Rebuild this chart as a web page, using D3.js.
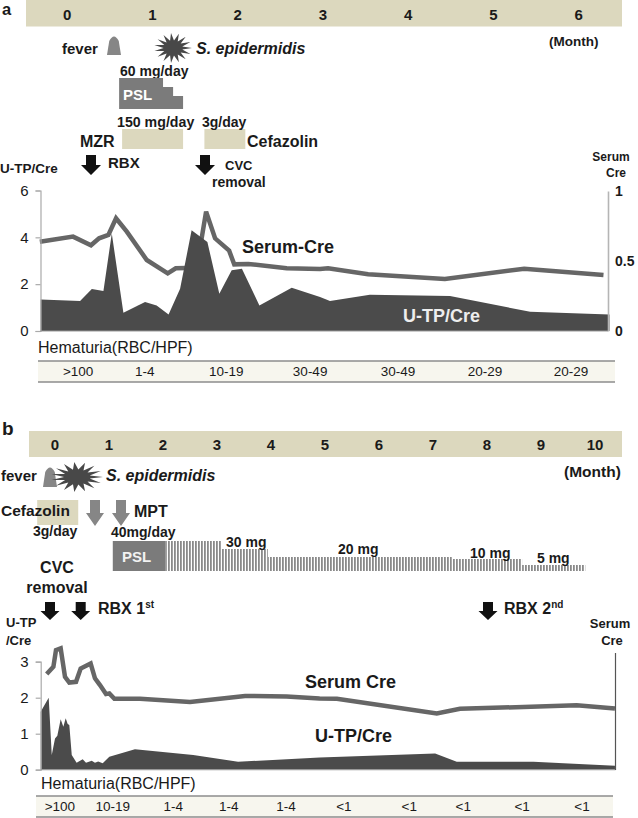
<!DOCTYPE html>
<html>
<head>
<meta charset="utf-8">
<script src="https://cdn.jsdelivr.net/npm/d3@7"></script>
<style>
  html, body { margin: 0; padding: 0; background: #fff; }
  svg { display: block; }
  text { font-family: "Liberation Sans", Arial, sans-serif; fill: #1a1a1a; }
  .b { font-weight: 700; }
</style>
</head>
<body>
<div id="chart"></div>
<script>
/* Panel a — time in months, U-TP/Cre on the left axis, serum Cre on the right axis */
var monthsA = [0, 1, 2, 3, 4, 5, 6];
var serumTimeA = [-0.32, 0.07, 0.28, 0.375, 0.484, 0.574, 0.70, 0.934, 1.18, 1.274, 1.52, 1.63, 1.735, 1.90, 1.96, 2.125, 2.575, 2.966, 3.06, 3.53, 4.43, 5.36, 6.29];
var serumValA = [0.638, 0.674, 0.612, 0.662, 0.686, 0.805, 0.71, 0.507, 0.412, 0.448, 0.452, 0.852, 0.662, 0.574, 0.476, 0.479, 0.448, 0.443, 0.448, 0.405, 0.371, 0.445, 0.40];
var utpTimeA = [-0.31, 0.152, 0.29, 0.426, 0.524, 0.66, 0.914, 1.05, 1.19, 1.325, 1.46, 1.645, 1.785, 1.93, 2.05, 2.255, 2.634, 2.966, 3.083, 3.55, 4.49, 5.43, 6.36];
var utpValA = [1.34, 1.28, 1.79, 1.71, 4.16, 0.78, 1.24, 1.09, 0.70, 1.80, 4.30, 3.80, 1.59, 2.59, 2.66, 1.09, 1.85, 1.45, 1.28, 1.55, 1.50, 0.82, 0.70];
var hemaLabelsA = ['>100', '1-4', '10-19', '30-49', '30-49', '20-29', '20-29'];
var hemaTimeA = [0.13, 0.91, 1.865, 2.85, 3.88, 4.90, 5.91];
var leftTicksA = [0, 2, 4, 6];
var rightTicksA = [0, 0.5, 1];
var pslTimeA = [0.61, 1.125, 1.243, 1.36];
var pslLevelA = [1, 0.71, 0.42];
var mzrTimeA = [0.645, 1.36];
var cefTimeA = [1.61, 2.09];

/* Panel b */
var monthsB = [0, 1, 2, 3, 4, 5, 6, 7, 8, 9, 10];
var serumTimeB = [-0.154, -0.03, 0.018, 0.105, 0.185, 0.265, 0.389, 0.475, 0.66, 0.74, 0.833, 0.944, 1.006, 1.10, 1.574, 2.5, 3.52, 4.29, 4.9, 5.22, 7.07, 7.5, 9.66, 10.37];
var serumValB = [2.66, 2.86, 3.32, 3.37, 2.58, 2.42, 2.44, 2.81, 2.95, 2.54, 2.35, 2.10, 2.12, 1.97, 1.97, 1.88, 2.05, 2.03, 1.98, 1.97, 1.56, 1.69, 1.79, 1.70];
var utpTimeB = [-0.265, -0.117, -0.06, 0, 0.043, 0.105, 0.154, 0.198, 0.235, 0.265, 0.31, 0.40, 0.513, 0.574, 0.68, 0.74, 0.80, 0.883, 1.006, 1.48, 2.56, 3.39, 4.9, 7.04, 7.44, 8.86, 10.37];
var utpValB = [1.61, 2.0, 0.41, 0.87, 0.94, 1.40, 1.19, 1.43, 1.27, 1.24, 0.41, 0.19, 0.29, 0.19, 0.25, 0.19, 0.23, 0.18, 0.36, 0.57, 0.41, 0.22, 0.34, 0.45, 0.22, 0.22, 0.11];
var hemaLabelsB = ['>100', '10-19', '1-4', '1-4', '1-4', '<1', '<1', '<1', '<1', '<1'];
var hemaTimeB = [0.09, 1.07, 2.19, 3.22, 4.28, 5.35, 6.56, 7.56, 8.65, 9.76];
var leftTicksB = [0, 1, 2, 3];
var pslDoseB = [30, 20, 10, 5];
var pslDoseHeightB = [22, 14, 12, 6];
var pslTimeB = [2.04, 3.09, 3.94, 7.35, 8.65, 9.82];
var pslTopDoseB = [40, 30, 20, 10, 5];
var cefTimeB = [-0.33, 0.43];

var BAND = '#dcd8be', DARK = '#4b4b4b', LINE = '#666', GREY = '#868686', PSL = '#7b7b7b';

var svg = d3.select('#chart').append('svg').attr('width', 638).attr('height', 818);

var defs = svg.append('defs');
var hatch = defs.append('pattern').attr('id', 'hatch').attr('patternUnits', 'userSpaceOnUse')
  .attr('width', 3).attr('height', 6);
hatch.append('rect').attr('width', 1.8).attr('height', 6).attr('fill', '#8a8a8a');

function label(x, y, str, size, opts) {
  opts = opts || {};
  return svg.append('text').attr('x', x).attr('y', y).text(str)
    .attr('font-size', size)
    .attr('class', opts.normal ? null : 'b')
    .attr('text-anchor', opts.anchor || 'start')
    .style('font-style', opts.italic ? 'italic' : null)
    .style('fill', opts.fill || null);
}

function downArrow(cx, top, bottom, fill, shaft, head) {
  var neck = top + (bottom - top) * 0.5;
  var pts = [[cx - shaft / 2, top], [cx + shaft / 2, top], [cx + shaft / 2, neck], [cx + head / 2, neck],
    [cx, bottom], [cx - head / 2, neck], [cx - shaft / 2, neck]];
  svg.append('path').attr('d', d3.line()(pts) + 'Z').attr('fill', fill);
}

function burst(cx, cy, rx, ry) {
  var spikes = 15;
  var pts = d3.range(spikes * 2).map(function(i) {
    var a = i / (spikes * 2) * 2 * Math.PI;
    var r = i % 2 === 0 ? 1 : 0.5;
    return [cx + Math.cos(a) * rx * r, cy + Math.sin(a) * ry * r];
  });
  svg.append('path').attr('d', d3.line()(pts) + 'Z').attr('fill', '#484848');
}

function feverMark(x0, x1, top, bottom) {
  var w = x1 - x0;
  svg.append('path').attr('fill', GREY)
    .attr('d', 'M' + x0 + ',' + bottom + 'L' + (x0 + w * 0.16) + ',' + (top + 5) +
      'Q' + (x0 + w * 0.5) + ',' + (top - 4) + ' ' + (x1 - w * 0.16) + ',' + (top + 5) +
      'L' + x1 + ',' + bottom + 'Z');
}

// month band, plot and hematuria strip shared by both panels
function drawPanel(p) {
  svg.append('rect').attr('x', p.bandX).attr('y', p.bandY).attr('width', 622 - p.bandX).attr('height', p.bandH).attr('fill', BAND);
  p.months.forEach(function(m) {
    label(p.x(m), p.bandY + p.bandH - 7, m, 15, { anchor: 'middle' });
  });

  var baseY = p.yLeft(0);

  // the serum line runs behind the protein area where they cross
  svg.append('path').attr('fill', 'none').attr('stroke', LINE).attr('stroke-width', 4.5).attr('stroke-linejoin', 'miter')
    .attr('d', d3.line().x(function(d) { return p.x(d[0]); }).y(function(d) { return p.yRight(d[1]); })(d3.zip(p.serumT, p.serumV)));

  svg.append('path').attr('fill', DARK)
    .attr('d', d3.area().x(function(d) { return p.x(d[0]); }).y0(baseY).y1(function(d) { return p.yLeft(d[1]); })(d3.zip(p.utpT, p.utpV)));

  var axisL = svg.append('g').attr('transform', 'translate(' + p.x.range()[0] + ',0)')
    .call(d3.axisLeft(p.yLeft).tickValues(p.leftTicks).tickSize(5).tickPadding(7).tickFormat(d3.format('d')));
  axisL.selectAll('path,line').attr('stroke', '#aaa').attr('stroke-width', 1.2);
  axisL.selectAll('text').attr('font-size', 15).style('font-family', '"Liberation Sans", Arial, sans-serif');

  svg.append('line').attr('x1', p.x.range()[0]).attr('x2', p.axisRightX).attr('y1', baseY).attr('y2', baseY).attr('stroke', '#999').attr('stroke-width', 1.2);

  // hematuria strip
  svg.append('rect').attr('x', p.stripX0).attr('y', p.stripY).attr('width', p.stripX1 - p.stripX0).attr('height', p.stripH).attr('fill', '#f7f6ee');
  [p.stripY, p.stripY + p.stripH].forEach(function(y) {
    svg.append('line').attr('x1', p.stripX0).attr('x2', p.stripX1).attr('y1', y).attr('y2', y).attr('stroke', '#8c8c8c').attr('stroke-width', 1.6);
  });
  svg.selectAll(null).data(d3.zip(p.hemaT, p.hemaL)).enter().append('text')
    .attr('x', function(d) { return p.x(d[0]); }).attr('y', p.stripY + p.stripH - 6)
    .attr('text-anchor', 'middle').attr('font-size', 13.5)
    .text(function(d) { return d[1]; });
}

/* ---- panel a ---- */
var xA = d3.scaleLinear().domain([-0.312, 6.343]).range([40.5, 608]);
var yA = d3.scaleLinear().domain([0, 6]).range([331, 190.5]);
var yRA = d3.scaleLinear().domain([0, 1]).range([331, 191]);

drawPanel({
  months: monthsA, x: xA, yLeft: yA, yRight: yRA, bandX: 26, bandY: 0, bandH: 26.5,
  utpT: utpTimeA, utpV: utpValA, serumT: serumTimeA, serumV: serumValA, leftTicks: leftTicksA,
  axisRightX: 608, stripX0: 38, stripX1: 615, stripY: 361, stripH: 21, hemaT: hemaTimeA, hemaL: hemaLabelsA
});

var axisRA = svg.append('g').attr('transform', 'translate(608,0)')
  .call(d3.axisRight(yRA).tickValues(rightTicksA).tickSize(0).tickPadding(7).tickFormat(d3.format('')));
axisRA.selectAll('path').attr('stroke', '#b5b5b5').attr('stroke-width', 1.6);
axisRA.selectAll('text').attr('font-size', 14).attr('font-weight', 700).style('font-family', '"Liberation Sans", Arial, sans-serif');

label(2, 15, 'a', 16.5);
label(549, 46, '(Month)', 13.5);
label(62, 54, 'fever', 15);
feverMark(107, 121, 36, 55);
burst(173, 48, 19, 15);
label(196, 54, 'S. epidermidis', 16, { italic: true });

label(120, 76, '60 mg/day', 14);
var pslAPts = [[xA(pslTimeA[0]), 109]];
pslLevelA.forEach(function(lv, i) {
  var top = 109 - lv * 31;
  pslAPts.push([xA(pslTimeA[i]), top], [xA(pslTimeA[i + 1]), top]);
});
pslAPts.push([xA(pslTimeA[3]), 109]);
svg.append('path').attr('d', d3.line()(pslAPts) + 'Z').attr('fill', PSL);
label(123, 100, 'PSL', 15, { fill: '#fff' });

svg.append('rect').attr('x', xA(mzrTimeA[0])).attr('y', 129).attr('width', xA(mzrTimeA[1]) - xA(mzrTimeA[0])).attr('height', 20).attr('fill', BAND);
svg.append('rect').attr('x', xA(cefTimeA[0])).attr('y', 129).attr('width', xA(cefTimeA[1]) - xA(cefTimeA[0])).attr('height', 20).attr('fill', BAND);
label(117, 127, '150 mg/day', 14.2);
label(202, 127, '3g/day', 14);
label(80, 147, 'MZR', 16);
label(247, 147, 'Cefazolin', 16);

downArrow(91, 155, 175, '#111', 10, 20);
downArrow(205, 155, 175, '#111', 10, 20);
label(108, 168, 'RBX', 15);
label(225, 170, 'CVC', 13);
label(212, 187, 'removal', 14);
label(0, 173, 'U-TP/Cre', 13.5);
label(611, 161, 'Serum', 12, { anchor: 'middle' });
label(616, 177, 'Cre', 12, { anchor: 'middle' });

label(242, 253, 'Serum-Cre', 18);
label(403, 322, 'U-TP/Cre', 18, { fill: '#eee' });
label(38, 353, 'Hematuria(RBC/HPF)', 16, { normal: true });

/* ---- panel b ---- */
var xB = d3.scaleLinear().domain([-0.265, 10.38]).range([40.7, 615.5]);
var yB = d3.scaleLinear().domain([0, 3]).range([769.7, 661.7]);

drawPanel({
  months: monthsB, x: xB, yLeft: yB, yRight: yB,
  bandX: 29, bandY: 431, bandH: 26,
  utpT: utpTimeB, utpV: utpValB, serumT: serumTimeB, serumV: serumValB, leftTicks: leftTicksB,
  axisRightX: 615.5, stripX0: 36, stripX1: 613, stripY: 796, stripH: 21, hemaT: hemaTimeB, hemaL: hemaLabelsB
});

svg.append('line').attr('x1', 615.5).attr('x2', 615.5).attr('y1', 653).attr('y2', 770).attr('stroke', '#555').attr('stroke-width', 1.2);

label(2, 435, 'b', 19);
label(564, 477, '(Month)', 15.5);
label(1, 481, 'fever', 15);
feverMark(43, 57, 467, 487);
burst(77, 477, 26, 15);
label(106, 481, 'S. epidermidis', 16, { italic: true });

svg.append('rect').attr('x', xB(cefTimeB[0])).attr('y', 500).attr('width', xB(cefTimeB[1]) - xB(cefTimeB[0])).attr('height', 25).attr('fill', BAND);
label(1, 516, 'Cefazolin', 15.5);
label(33, 536, '3g/day', 14);

downArrow(95, 500, 526, GREY, 10, 18);
downArrow(121, 500, 526, GREY, 10, 18);
label(134, 517, 'MPT', 16);
label(111, 537, '40mg/day', 14);

// PSL taper: solid 40 mg block, hatched steps after it
var pslHeight = d3.scaleOrdinal().domain(pslDoseB).range(pslDoseHeightB).unknown(30);
svg.append('rect').attr('x', xB(1.07)).attr('y', 541).attr('width', xB(pslTimeB[0]) - xB(1.07)).attr('height', 30).attr('fill', PSL);
svg.selectAll(null).data(d3.pairs(pslTimeB).map(function(t, i) { return { t0: t[0], t1: t[1], dose: pslTopDoseB[i] }; }))
  .enter().append('rect')
  .attr('x', function(d) { return xB(d.t0); })
  .attr('width', function(d) { return xB(d.t1) - xB(d.t0); })
  .attr('y', function(d) { return 571 - pslHeight(d.dose); })
  .attr('height', function(d) { return pslHeight(d.dose); })
  .attr('fill', 'url(#hatch)');
label(122, 562, 'PSL', 15, { fill: '#f2f2f2' });
label(226, 547, '30 mg', 14);
label(338, 554, '20 mg', 14);
label(470, 558, '10 mg', 14);
label(537, 563, '5 mg', 14);

label(57, 573, 'CVC', 16, { anchor: 'middle' });
label(57, 593, 'removal', 16, { anchor: 'middle' });
downArrow(50, 602, 620, '#111', 10, 19);
downArrow(80.7, 602, 620, '#111', 10, 19);
downArrow(488, 602, 620, '#111', 10, 19);

var rbx1 = label(98, 614, 'RBX 1', 16);
rbx1.append('tspan').text('st').attr('dy', -6).attr('font-size', 10);
var rbx2 = label(504, 614, 'RBX 2', 16);
rbx2.append('tspan').text('nd').attr('dy', -6).attr('font-size', 10);

label(6, 627, 'U-TP', 13);
label(6, 645, '/Cre', 13);
label(610, 628, 'Serum', 13, { anchor: 'middle' });
label(612, 645, 'Cre', 13, { anchor: 'middle' });

label(305, 688, 'Serum Cre', 18);
label(315, 742, 'U-TP/Cre', 18);
label(41, 789, 'Hematuria(RBC/HPF)', 16, { normal: true });
</script>
</body>
</html>
